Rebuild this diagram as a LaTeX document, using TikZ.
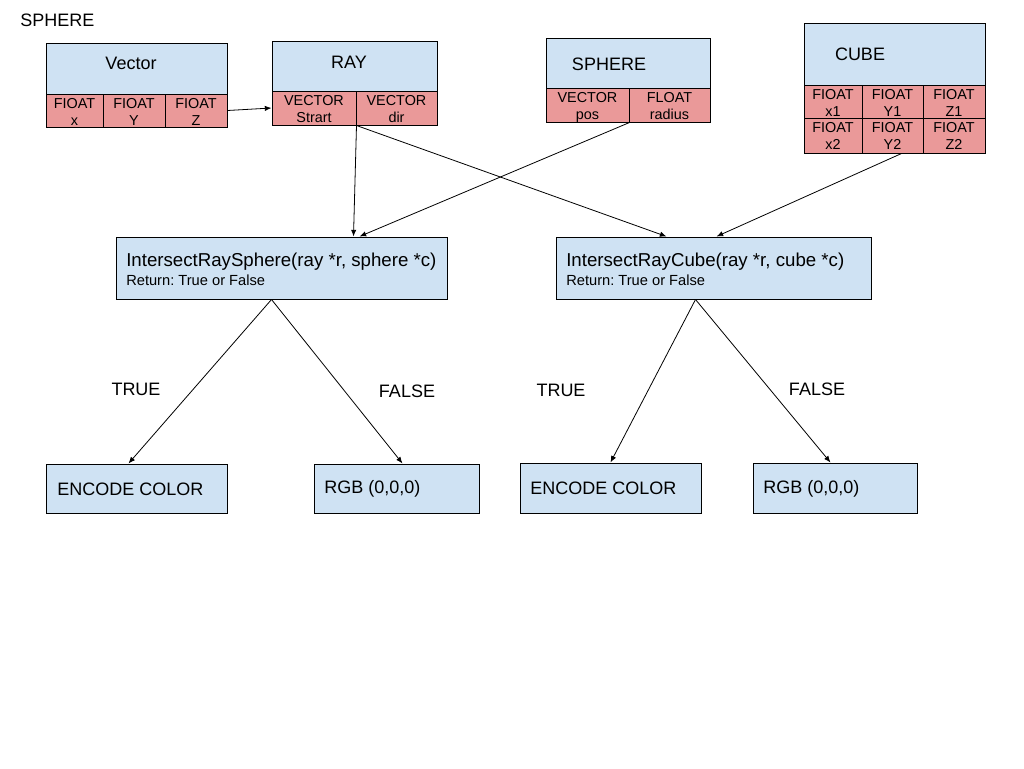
\documentclass[tikz,border=0pt]{standalone}
\usepackage{fontspec}
\setmainfont{Liberation Sans}
\frenchspacing
\usetikzlibrary{fit,calc,arrows.meta}
\definecolor{hblue}{HTML}{CFE2F3}
\definecolor{fred}{HTML}{EA9999}
\newcommand\mkcell[4]{%
  \node[cell, fit={#2 #3}] (#1) {};
  \node[celltxt, anchor=base] (#1t) at ($(#1.north)+(0,32)$) {#4};}
\begin{document}
\begin{tikzpicture}[x=0.75pt,y=-0.75pt,
  box/.style={draw, line width=0.75pt, inner sep=0pt, fill=hblue},
  cell/.style={draw, line width=0.75pt, inner sep=0pt, fill=fred},
  celltxt/.style={inner sep=0pt, align=center, font=\fontsize{10.8}{12.75}\selectfont},
  big/.style={inner sep=0pt, font=\fontsize{13.5}{16}\selectfont},
  fn/.style={inner sep=0pt, font=\fontsize{14}{16}\selectfont},
  small/.style={inner sep=0pt, font=\fontsize{11}{13}\selectfont},
  arr/.style={-{Latex[length=5pt,width=4pt]}, line width=0.6pt}
]
\useasboundingbox (0,0) rectangle (1024,768);

\node[big, anchor=west] (title) at (20,20) {SPHERE};

% Vector
\node[box, fit={(46,43) (227,94)}] (vech) {};
\node[big] (vect) at (131,63) {Vector};
\mkcell{vx}{(46,94)}{(103,127)}{FIOAT\\x}
\mkcell{vy}{(103,94)}{(165,127)}{FIOAT\\Y}
\mkcell{vz}{(165,94)}{(227,127)}{FIOAT\\Z}

% RAY
\node[box, fit={(272,41) (437,91)}] (rayh) {};
\node[big] (rayt) at (349,62) {RAY};
\mkcell{rs}{(272,91)}{(356,125)}{VECTOR\\Strart}
\mkcell{rd}{(356,91)}{(437,125)}{VECTOR\\dir}

% SPHERE
\node[box, fit={(546,38) (710,88)}] (sphh) {};
\node[big] (spht) at (609,64) {SPHERE};
\mkcell{sp}{(546,88)}{(629,122)}{VECTOR\\pos}
\mkcell{sr}{(629,88)}{(710,122)}{FLOAT\\radius}

% CUBE
\node[box, fit={(804,23) (985,85)}] (cubh) {};
\node[big] (cubt) at (860,54) {CUBE};
\mkcell{cx1}{(804,85)}{(862,118)}{FIOAT\\x1}
\mkcell{cy1}{(862,85)}{(923,118)}{FIOAT\\Y1}
\mkcell{cz1}{(923,85)}{(985,118)}{FIOAT\\Z1}
\mkcell{cx2}{(804,118)}{(862,153)}{FIOAT\\x2}
\mkcell{cy2}{(862,118)}{(923,153)}{FIOAT\\Y2}
\mkcell{cz2}{(923,118)}{(985,153)}{FIOAT\\Z2}

% Intersect boxes
\node[box, fit={(116,237) (447,299)}] (irs) {};
\node[fn, anchor=west] (irs1) at (126,262) {IntersectRaySphere(ray *r, sphere *c)};
\node[small, anchor=west] (irs2) at (126,280) {Return: True or False};
\node[box, fit={(556,237) (871,299)}] (irc) {};
\node[fn, anchor=west] (irc1) at (566,262) {IntersectRayCube(ray *r, cube *c)};
\node[small, anchor=west] (irc2) at (566,280) {Return: True or False};

% Result boxes
\node[box, fit={(46,464) (227,513)}] (enc1) {};
\node[big, anchor=west] (enc1t) at (57,489) {ENCODE COLOR};
\node[box, fit={(314,464) (479,513)}] (rgb1) {};
\node[big, anchor=west] (rgb1t) at (324,489) {RGB (0,0,0)};
\node[box, fit={(520,463) (701,513)}] (enc2) {};
\node[big, anchor=west] (enc2t) at (530,488) {ENCODE COLOR};
\node[box, fit={(753,463) (917,513)}] (rgb2) {};
\node[big, anchor=west] (rgb2t) at (763,489) {RGB (0,0,0)};

% Labels
\node[big] (t1) at (136,389) {TRUE};
\node[big] (f1) at (407,391) {FALSE};
\node[big] (t2) at (561,390) {TRUE};
\node[big] (f2) at (817,389) {FALSE};

% Connectors
\coordinate (irsb) at ($(irs.south west)+(156,0)$);
\coordinate (ircb) at ($(irc.south west)+(140,0)$);
\coordinate (cubeb) at ($(cy2.south west)+(40,0)$);

\draw[arr] (vz.east) -- (rs.west);
\draw[arr] (rs.south east) -- ($(irs.north west)+(238,0)$);
\draw[arr] (rs.south east) -- ($(irc.north west)+(111,0)$);
\draw[arr] (sp.south east) -- ($(irs.north west)+(244,0)$);
\draw[arr] (cubeb) -- ($(irc.north west)+(161,0)$);
\draw[arr] (irsb) -- ($(enc1.north west)+(83,0)$);
\draw[arr] (irsb) -- ($(rgb1.north west)+(89,0)$);
\draw[arr] (ircb) -- ($(enc2.north west)+(91,0)$);
\draw[arr] (ircb) -- ($(rgb2.north west)+(78,0)$);
\end{tikzpicture}
\end{document}
